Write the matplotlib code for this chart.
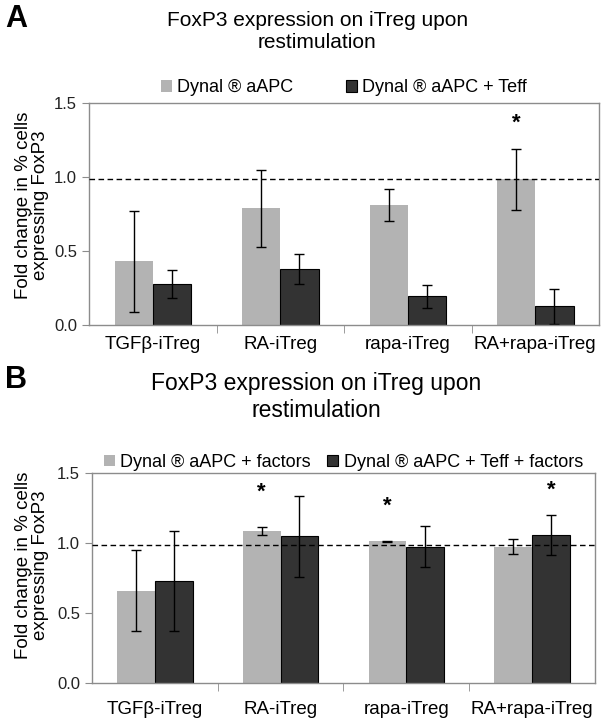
import matplotlib

matplotlib.use("Agg")
import matplotlib.pyplot as plt
import numpy as np

plt.rcParams["font.family"] = ["Liberation Sans", "DejaVu Sans"]

groups = ["TGFβ-iTreg", "RA-iTreg", "rapa-iTreg", "RA+rapa-iTreg"]

# panel A
a_labels = ["Dynal ® aAPC", "Dynal ® aAPC + Teff"]
a_light = [0.43, 0.79, 0.81, 0.985]
a_light_err = [0.34, 0.26, 0.11, 0.205]
a_dark = [0.275, 0.377, 0.195, 0.125]
a_dark_err = [0.095, 0.10, 0.078, 0.12]
a_stars = [(3, 0, 1.29)]  # (group, series, y)

# panel B
b_labels = ["Dynal ® aAPC + factors", "Dynal ® aAPC + Teff + factors"]
b_light = [0.66, 1.087, 1.012, 0.975]
b_light_err = [0.29, 0.03, 0.006, 0.055]
b_dark = [0.728, 1.048, 0.975, 1.058]
b_dark_err = [0.355, 0.29, 0.145, 0.145]
b_stars = [(1, 0, 1.29), (2, 0, 1.19), (3, 1, 1.30)]

ref_line = 0.985
light_c = "#b3b3b3"
dark_c = "#333333"
spine_c = "#8c8c8c"


def panel(ax, light, light_err, dark, dark_err, labels, stars, leg_y, colsp, lab_x, lab_y, xpad):
    x = np.arange(len(groups))
    w = 0.30
    ekw = dict(ecolor="black", elinewidth=1.0, capsize=3.5, capthick=1.0)
    ax.bar(x - w / 2, light, w, color=light_c, yerr=light_err, error_kw=ekw, label=labels[0], zorder=2)
    ax.bar(x + w / 2, dark, w, color=dark_c, edgecolor="black", linewidth=0.8,
           yerr=dark_err, error_kw=ekw, label=labels[1], zorder=2)
    ax.axhline(ref_line, ls=(0, (4, 2.5)), color="black", lw=1.0, zorder=3)
    for g, s, y in stars:
        ax.text(g + (w / 2 if s else -w / 2), y, "*", ha="center", va="bottom",
                fontsize=16, fontweight="bold")
    ax.set_xlim(-0.5, 3.5)
    ax.set_ylim(0, 1.5)
    ax.set_yticks([0, 0.5, 1.0, 1.5])
    ax.set_yticklabels(["0.0", "0.5", "1.0", "1.5"])
    ax.set_xticks(x)
    ax.set_xticklabels(groups)
    ax.set_xticks([0.5, 1.5, 2.5], minor=True)
    ax.tick_params(axis="x", which="major", length=0, labelsize=13.5, pad=xpad)
    ax.tick_params(axis="x", which="minor", length=6, color=spine_c, direction="out")
    ax.tick_params(axis="y", length=5, color=spine_c, labelsize=12, labelcolor="#222222")
    for sp in ax.spines.values():
        sp.set_color(spine_c)
        sp.set_linewidth(1.0)
    ax.set_ylabel("Fold change in % cells\nexpressing FoxP3", fontsize=13.5, linespacing=1.05)
    ax.yaxis.set_label_coords(lab_x, lab_y)
    ax.legend(loc="center", bbox_to_anchor=(0.5, leg_y), ncol=2, frameon=False,
              fontsize=13, handlelength=0.6, handleheight=0.6, handletextpad=0.3,
              columnspacing=colsp, borderaxespad=0, borderpad=0)


fig = plt.figure(figsize=(6.03, 7.19), dpi=100)
ax1 = fig.add_axes([0.1476, 0.548, 0.8458, 0.3088])
ax2 = fig.add_axes([0.1526, 0.050, 0.834, 0.292])

panel(ax1, a_light, a_light_err, a_dark, a_dark_err, a_labels, a_stars, 1.068, 2.9, -0.078, 0.54, 8)
panel(ax2, b_light, b_light_err, b_dark, b_dark_err, b_labels, b_stars, 1.052, 0.9, -0.085, 0.56, 13)

fig.text(0.526, 0.985, "FoxP3 expression on iTreg upon\nrestimulation", ha="center", va="top",
         fontsize=15, linespacing=1.2)
fig.text(0.524, 0.482, "FoxP3 expression on iTreg upon\nrestimulation", ha="center", va="top",
         fontsize=16.5, linespacing=1.2)
fig.text(0.008, 0.995, "A", fontsize=22, fontweight="bold", va="top")
fig.text(0.008, 0.493, "B", fontsize=22, fontweight="bold", va="top")

fig.savefig("out.png", dpi=100)
